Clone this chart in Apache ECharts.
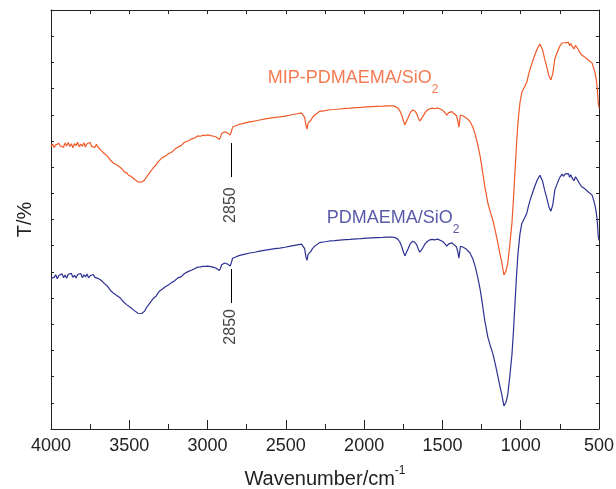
<!DOCTYPE html>
<html>
<head>
<meta charset="utf-8">
<script src="https://cdn.jsdelivr.net/npm/echarts@6/dist/echarts.min.js"></script>
<style>
html,body{margin:0;padding:0;background:#fff;}
#chart{width:616px;height:489px;}
</style>
</head>
<body>
<div id="chart"></div>
<script>
// x: wavenumber (cm^-1), y: transmittance (arbitrary, offset spectra)
const mipSpectrum = [[4000,107.9],[3990,108.8],[3980,107.5],[3970,108.4],[3960,107.8],[3950,109.1],[3940,108.0],[3930,108.7],[3920,107.6],[3910,109.2],[3900,108.1],[3890,109.4],[3880,107.9],[3870,108.9],[3860,107.4],[3850,109.0],[3840,108.2],[3830,109.5],[3820,107.8],[3810,108.8],[3800,108.0],[3790,109.3],[3780,107.7],[3770,108.9],[3760,108.3],[3750,109.4],[3740,107.9],[3730,108.6],[3720,107.5],[3710,108.7],[3700,107.6],[3690,107.9],[3680,106.4],[3670,106.9],[3660,105.2],[3650,105.6],[3640,104.2],[3630,104.0],[3620,102.6],[3610,102.9],[3600,101.5],[3590,101.9],[3580,100.9],[3570,100.8],[3555,99.8],[3540,98.9],[3530,98.1],[3515,97.7],[3505,96.9],[3490,96.5],[3479,95.8],[3465,95.3],[3455,94.7],[3445,94.4],[3434,93.8],[3420,94.3],[3410,94.6],[3402,95.1],[3390,96.2],[3380,96.9],[3370,97.9],[3358,98.8],[3345,99.9],[3330,100.7],[3318,101.9],[3306,102.6],[3290,103.6],[3270,104.2],[3250,105.1],[3230,105.7],[3210,106.8],[3190,107.6],[3170,108.2],[3147,109.5],[3125,110.0],[3100,110.8],[3080,111.2],[3063,111.9],[3045,111.8],[3030,112.2],[3015,112.0],[3000,112.3],[2980,112.0],[2960,111.8],[2945,111.5],[2936,110.9],[2925,110.6],[2918,111.4],[2910,112.8],[2900,113.3],[2890,113.5],[2880,113.4],[2870,113.0],[2862,112.4],[2856,112.2],[2848,113.6],[2840,115.3],[2820,115.8],[2800,116.3],[2782,116.5],[2760,116.9],[2730,117.3],[2700,117.6],[2667,118.0],[2630,118.4],[2600,118.7],[2570,119.0],[2539,119.2],[2505,119.5],[2470,119.9],[2435,120.3],[2400,120.7],[2388,120.5],[2380,119.0],[2372,116.0],[2365,114.5],[2358,116.8],[2350,116.2],[2340,117.9],[2330,119.0],[2316,119.9],[2300,120.6],[2284,121.3],[2250,121.6],[2220,121.9],[2190,122.0],[2156,122.2],[2120,122.4],[2090,122.5],[2050,122.7],[2020,122.8],[1983,123.0],[1950,123.1],[1920,123.2],[1880,123.3],[1850,123.4],[1817,123.4],[1800,123.1],[1785,122.6],[1772,121.5],[1760,119.8],[1748,117.5],[1740,116.2],[1734,115.7],[1728,116.8],[1720,118.8],[1705,120.9],[1689,121.8],[1676,121.4],[1665,120.5],[1655,118.9],[1645,117.6],[1635,118.4],[1625,119.3],[1610,120.9],[1595,121.8],[1581,122.3],[1565,122.5],[1550,122.3],[1530,122.6],[1515,122.2],[1498,121.7],[1485,120.9],[1472,119.9],[1460,120.8],[1450,121.3],[1440,121.2],[1425,120.4],[1410,119.6],[1402,117.8],[1395,115.3],[1390,117.5],[1385,119.9],[1370,119.6],[1346,118.7],[1325,117.5],[1306,115.3],[1290,112.4],[1274,108.5],[1260,104.4],[1248,100.1],[1238,96.0],[1229,92.4],[1220,89.6],[1210,86.3],[1195,83.0],[1178,79.8],[1162,75.6],[1146,71.0],[1133,67.0],[1120,63.4],[1113,60.9],[1107,58.8],[1100,59.3],[1095,60.2],[1088,61.8],[1082,63.6],[1070,70.2],[1056,78.7],[1046,88.0],[1037,97.8],[1028,107.5],[1018,116.9],[1005,124.5],[993,128.6],[977,130.5],[961,132.5],[952,134.8],[942,137.1],[925,140.2],[910,142.8],[893,145.4],[877,147.0],[868,146.3],[860,144.7],[848,141.5],[833,138.2],[820,134.9],[807,133.3],[800,133.6],[795,135.8],[782,141.4],[768,143.6],[752,146.0],[736,147.4],[726,146.8],[716,147.5],[704,147.0],[695,147.6],[688,146.4],[680,147.2],[672,146.2],[666,146.6],[660,145.1],[655,144.4],[650,146.5],[645,146.0],[636,145.3],[625,144.0],[616,143.8],[610,142.8],[600,142.4],[590,142.0],[580,142.1],[570,141.0],[560,140.6],[545,139.8],[535,138.0],[525,136.0],[518,133.6],[512,130.6],[508,127.5],[505,124.5],[500,122.6]];

const pdmSpectrum = [[4000,57.6],[3990,58.3],[3980,57.9],[3970,58.9],[3960,57.4],[3950,58.6],[3940,58.2],[3930,59.3],[3920,57.8],[3910,58.8],[3900,57.6],[3890,59.1],[3880,58.4],[3870,59.4],[3860,57.9],[3850,58.7],[3840,57.7],[3830,59.0],[3820,58.3],[3810,59.4],[3800,57.8],[3790,58.9],[3780,58.1],[3770,59.2],[3760,57.7],[3750,58.5],[3740,58.2],[3730,59.0],[3720,57.9],[3710,58.4],[3700,57.5],[3690,57.6],[3680,56.8],[3670,56.4],[3660,55.6],[3650,55.1],[3640,54.6],[3630,53.8],[3620,52.9],[3610,52.5],[3600,51.8],[3590,51.3],[3580,51.0],[3570,50.5],[3555,49.9],[3540,48.7],[3530,48.2],[3515,47.4],[3505,47.0],[3490,46.3],[3479,45.9],[3465,45.1],[3455,44.8],[3445,44.2],[3434,43.9],[3420,44.1],[3410,44.8],[3402,45.0],[3390,46.4],[3380,46.8],[3370,48.0],[3358,48.6],[3345,50.0],[3330,50.6],[3318,51.8],[3306,52.7],[3290,53.4],[3270,54.3],[3250,55.0],[3230,55.9],[3210,56.6],[3190,57.7],[3170,58.1],[3147,59.4],[3125,60.1],[3100,60.7],[3080,61.3],[3063,61.8],[3045,61.9],[3030,62.1],[3015,62.1],[3000,62.2],[2980,62.0],[2960,61.7],[2945,61.4],[2936,60.8],[2925,60.5],[2918,61.3],[2910,62.7],[2900,63.2],[2890,63.4],[2880,63.3],[2870,62.9],[2862,62.4],[2856,62.2],[2848,63.5],[2840,65.2],[2820,65.7],[2800,66.2],[2782,66.5],[2760,66.8],[2730,67.2],[2700,67.5],[2667,67.9],[2630,68.3],[2600,68.6],[2570,68.9],[2539,69.1],[2505,69.4],[2470,69.8],[2435,70.2],[2400,70.6],[2388,70.4],[2380,68.9],[2372,65.8],[2365,64.4],[2358,66.7],[2350,66.0],[2340,67.8],[2330,68.9],[2316,69.8],[2300,70.5],[2284,71.2],[2250,71.5],[2220,71.8],[2190,71.9],[2156,72.1],[2120,72.3],[2090,72.4],[2050,72.6],[2020,72.7],[1983,72.9],[1950,73.0],[1920,73.1],[1880,73.2],[1850,73.3],[1817,73.3],[1800,73.0],[1785,72.5],[1772,71.4],[1760,69.7],[1748,67.4],[1740,66.1],[1734,65.6],[1728,66.7],[1720,68.7],[1705,70.8],[1689,71.7],[1676,71.3],[1665,70.4],[1655,68.8],[1645,67.5],[1635,68.3],[1625,69.2],[1610,70.8],[1595,71.7],[1581,72.2],[1565,72.4],[1550,72.2],[1530,72.5],[1515,72.1],[1498,71.6],[1485,70.8],[1472,69.8],[1460,70.7],[1450,71.2],[1440,71.1],[1425,70.3],[1410,69.5],[1402,67.7],[1395,65.2],[1390,67.4],[1385,69.8],[1370,69.5],[1346,68.6],[1325,67.3],[1306,65.0],[1290,61.9],[1274,57.8],[1260,53.6],[1248,49.1],[1238,44.9],[1229,41.2],[1220,38.4],[1210,35.1],[1195,31.9],[1178,28.8],[1162,24.7],[1146,20.2],[1133,16.4],[1120,12.9],[1113,10.6],[1107,8.8],[1100,9.2],[1095,10.1],[1088,11.7],[1082,13.5],[1070,20.0],[1056,28.4],[1046,37.7],[1037,47.5],[1028,57.2],[1018,66.7],[1005,74.4],[993,78.5],[977,80.4],[961,82.4],[952,84.7],[942,87.0],[925,90.1],[910,92.7],[893,95.3],[877,96.9],[868,96.2],[860,94.6],[848,91.4],[833,88.1],[820,84.8],[807,83.2],[800,83.5],[795,85.7],[782,91.3],[768,93.5],[752,95.9],[736,97.3],[726,96.5],[716,97.4],[704,96.8],[695,97.5],[688,96.1],[680,97.1],[672,95.9],[666,96.4],[660,94.8],[655,94.1],[650,96.3],[645,95.8],[636,95.0],[625,93.8],[616,93.5],[610,92.5],[600,92.1],[590,91.7],[580,91.8],[570,90.6],[560,90.2],[545,89.4],[535,87.5],[525,85.3],[518,82.7],[512,80.2],[508,76.6],[505,73.6],[500,72.0]];

const xTickLabels = [4000, 3500, 3000, 2500, 2000, 1500, 1000, 500];
const seriesNames = ['MIP-PDMAEMA/SiO2', 'PDMAEMA/SiO2'];
// annotation: band position and [line top, line bottom, text centre] for each spectrum
const bandWn = 2850;
const bandMarksMIP = [109.2, 96.2, 85.5];
const bandMarksPDM = [61.1, 48.1, 39.0];
// series name label anchors [wavenumber, value]
const labelMIP = [2616, 134.0];
const labelPDM = [2239, 80.6];

const ORANGE = '#F05A28';
const BLUE = '#2E3192';
const AXIS = '#222';
const FONT = 'Liberation Sans, Arial, sans-serif';

const chart = echarts.init(document.getElementById('chart'), null, {renderer: 'canvas'});

function bandLine(m) {
  return [[{coord: [bandWn, m[0]]}, {coord: [bandWn, m[1]]}]];
}
function nameLabel(text, color) {
  return {
    show: true, position: 'inside', align: 'left', verticalAlign: 'middle',
    formatter: '{a|' + text + '}{s|2}',
    rich: {
      a: {fontSize: 18, color: color, fontFamily: FONT, lineHeight: 36},
      s: {fontSize: 12, color: color, fontFamily: FONT, verticalAlign: 'bottom', lineHeight: 12}
    }
  };
}

const option = {
  animation: false,
  backgroundColor: '#fff',
  grid: {left: 51, right: 17, top: 10, bottom: 60, containLabel: false, outerBoundsMode: 'none'},
  xAxis: [{
    type: 'value', min: 500, max: 4000, interval: 500, inverse: true,
    axisLine: {show: true, onZero: false, lineStyle: {color: AXIS, width: 1}},
    axisTick: {show: true, inside: true, length: 9, lineStyle: {color: AXIS}},
    minorTick: {show: true, splitNumber: 2, length: 5, lineStyle: {color: AXIS}},
    splitLine: {show: false},
    axisLabel: {
      fontSize: 18, color: AXIS, fontFamily: FONT, margin: 8,
      formatter: v => (xTickLabels.indexOf(v) >= 0 ? String(v) : '')
    },
    name: '{a|Wavenumber/cm}{s|-1}',
    nameLocation: 'middle', nameGap: 36,
    nameTextStyle: {
      rich: {
        a: {fontSize: 20, color: AXIS, fontFamily: FONT, lineHeight: 28},
        s: {fontSize: 12, color: AXIS, fontFamily: FONT, verticalAlign: 'top', lineHeight: 12}
      }
    }
  }, {
    type: 'value', position: 'top', min: 500, max: 4000, interval: 250, inverse: true,
    axisLine: {show: true, onZero: false, lineStyle: {color: AXIS, width: 1}},
    axisTick: {show: true, inside: true, length: 4, lineStyle: {color: AXIS}},
    axisLabel: {show: false}, splitLine: {show: false}
  }],
  yAxis: [{
    type: 'value', min: 0, max: 160, interval: 10,
    axisLine: {show: true, onZero: false, lineStyle: {color: AXIS, width: 1}},
    axisTick: {show: true, inside: true, length: 3, lineStyle: {color: AXIS}},
    axisLabel: {show: false}, splitLine: {show: false},
    name: 'T/%', nameLocation: 'middle', nameGap: 16,
    nameTextStyle: {fontSize: 20, color: AXIS, fontFamily: FONT}
  }, {
    type: 'value', position: 'right', min: 0, max: 160, interval: 10,
    axisLine: {show: true, onZero: false, lineStyle: {color: AXIS, width: 1}},
    axisTick: {show: true, inside: true, length: 3, lineStyle: {color: AXIS}},
    axisLabel: {show: false}, splitLine: {show: false}
  }],
  series: [{
    name: seriesNames[0], type: 'line', data: mipSpectrum,
    showSymbol: false, symbol: 'none', smooth: false,
    lineStyle: {color: ORANGE, width: 1.2}, itemStyle: {color: ORANGE},
    markLine: {
      silent: true, symbol: 'none', label: {show: false},
      lineStyle: {color: '#000', width: 1, type: 'solid'},
      data: bandLine(bandMarksMIP)
    }
  }, {
    name: seriesNames[1], type: 'line', data: pdmSpectrum,
    showSymbol: false, symbol: 'none', smooth: false,
    lineStyle: {color: BLUE, width: 1.2}, itemStyle: {color: BLUE},
    markLine: {
      silent: true, symbol: 'none', label: {show: false},
      lineStyle: {color: '#000', width: 1, type: 'solid'},
      data: bandLine(bandMarksPDM)
    }
  }, {
    type: 'scatter', silent: true, symbolSize: 0,
    data: [[bandWn, bandMarksMIP[2]], [bandWn, bandMarksPDM[2]]],
    label: {show: true, position: 'inside', formatter: String(bandWn), rotate: 90,
      fontSize: 16, color: '#111', fontFamily: FONT}
  }, {
    type: 'scatter', silent: true, symbolSize: 0,
    data: [labelMIP], label: nameLabel('MIP-PDMAEMA/SiO', ORANGE)
  }, {
    type: 'scatter', silent: true, symbolSize: 0,
    data: [labelPDM], label: nameLabel('PDMAEMA/SiO', BLUE)
  }]
};
chart.setOption(option);
</script>
</body>
</html>
